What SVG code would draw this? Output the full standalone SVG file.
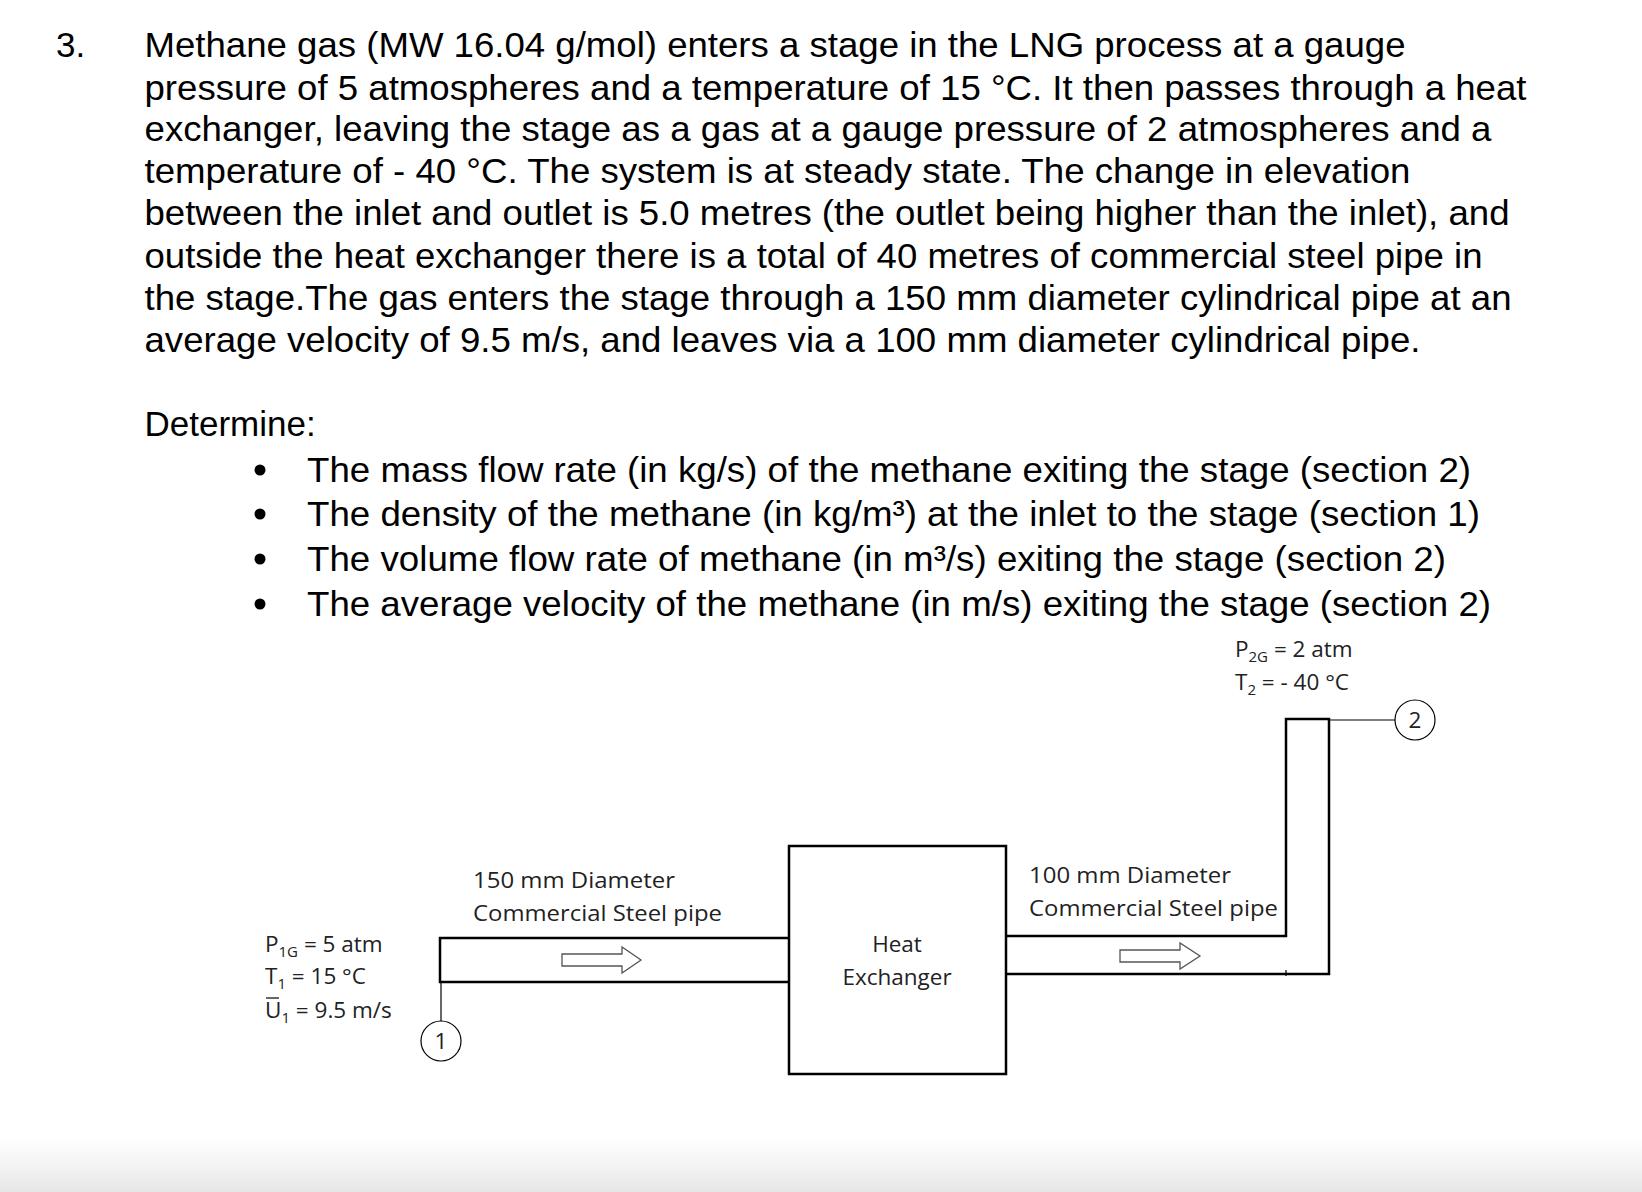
<svg xmlns="http://www.w3.org/2000/svg" width="1642" height="1192" viewBox="0 0 1642 1192">
<defs>
<linearGradient id="g" x1="0" y1="0" x2="0" y2="1"><stop offset="0" stop-color="#fff"/><stop offset="1" stop-color="#e6e6e6"/></linearGradient>
<style>
.m{font-family:"Liberation Sans",Arial,sans-serif;font-size:35px;fill:#000}
.s{font-family:"Open Sans","Liberation Sans",sans-serif;font-size:22.5px;fill:#222}
.p{fill:none;stroke:#000;stroke-width:2.5}
.t{fill:none;stroke:#000;stroke-width:1.2}
.a{fill:#fff;stroke:#555;stroke-width:1.3}
</style>
</defs>
<rect width="1642" height="1192" fill="#fff"/>
<rect y="1140" width="1642" height="52" fill="url(#g)"/>
<g id="question">
<text class="m" x="56" y="57">3.</text>
<text class="m" x="144.5" y="57" textLength="1261" lengthAdjust="spacingAndGlyphs">Methane gas (MW 16.04 g/mol) enters a stage in the LNG process at a gauge</text>
<text class="m" x="144.5" y="99.5" textLength="1382" lengthAdjust="spacingAndGlyphs">pressure of 5 atmospheres and a temperature of 15 °C. It then passes through a heat</text>
<text class="m" x="144.5" y="141" textLength="1347" lengthAdjust="spacingAndGlyphs">exchanger, leaving the stage as a gas at a gauge pressure of 2 atmospheres and a</text>
<text class="m" x="144.5" y="183" textLength="1266" lengthAdjust="spacingAndGlyphs">temperature of - 40 °C. The system is at steady state. The change in elevation</text>
<text class="m" x="144.5" y="225" textLength="1365" lengthAdjust="spacingAndGlyphs">between the inlet and outlet is 5.0 metres (the outlet being higher than the inlet), and</text>
<text class="m" x="144.5" y="268" textLength="1338" lengthAdjust="spacingAndGlyphs">outside the heat exchanger there is a total of 40 metres of commercial steel pipe in</text>
<text class="m" x="144.5" y="310" textLength="1367" lengthAdjust="spacingAndGlyphs">the stage.The gas enters the stage through a 150 mm diameter cylindrical pipe at an</text>
<text class="m" x="144.5" y="352" textLength="1276" lengthAdjust="spacingAndGlyphs">average velocity of 9.5 m/s, and leaves via a 100 mm diameter cylindrical pipe.</text>
<text class="m" x="144.5" y="435.5">Determine:</text>
<circle cx="260" cy="470" r="5.5"/><circle cx="260" cy="514" r="5.5"/><circle cx="260" cy="559" r="5.5"/><circle cx="260" cy="604" r="5.5"/>
<text class="m" x="307" y="481.5" textLength="1164" lengthAdjust="spacingAndGlyphs">The mass flow rate (in kg/s) of the methane exiting the stage (section 2)</text>
<text class="m" x="307" y="525.5" textLength="1173" lengthAdjust="spacingAndGlyphs">The density of the methane (in kg/m³) at the inlet to the stage (section 1)</text>
<text class="m" x="307" y="570.5" textLength="1139" lengthAdjust="spacingAndGlyphs">The volume flow rate of methane (in m³/s) exiting the stage (section 2)</text>
<text class="m" x="307" y="615.5" textLength="1184" lengthAdjust="spacingAndGlyphs">The average velocity of the methane (in m/s) exiting the stage (section 2)</text>
</g>
<g id="connectors">
<path class="p" d="M789 938H440V982H789"/>
<path class="p" d="M1006 936H1286V719H1329V974H1006"/>
<path class="t" d="M441 982V1021"/>
<path class="t" d="M1329 720H1395"/>
<path class="t" d="M1286 970V976"/>
<path class="a" d="M562 954H622V947L641 960L622 973V966H562Z"/>
<path class="a" d="M1120 950H1180V943L1200 956L1180 969V962H1120Z"/>
</g>
<g id="hx">
<rect class="p" x="789" y="846" width="217" height="228"/>
<text class="s" x="897" y="952" text-anchor="middle">Heat</text>
<text class="s" x="897" y="985" text-anchor="middle">Exchanger</text>
</g>
<g id="pt1">
<circle class="t" cx="441" cy="1041" r="20" fill="#fff"/>
<text class="s" x="441" y="1049" text-anchor="middle">1</text>
</g>
<g id="pt2">
<circle class="t" cx="1415" cy="720" r="20" fill="#fff"/>
<text class="s" x="1415" y="728" text-anchor="middle">2</text>
</g>
<g id="labels">
<text class="s" x="473" y="888" textLength="202" lengthAdjust="spacingAndGlyphs">150 mm Diameter</text>
<text class="s" x="473" y="921" textLength="249" lengthAdjust="spacingAndGlyphs">Commercial Steel pipe</text>
<text class="s" x="1029" y="883" textLength="202" lengthAdjust="spacingAndGlyphs">100 mm Diameter</text>
<text class="s" x="1029" y="916" textLength="249" lengthAdjust="spacingAndGlyphs">Commercial Steel pipe</text>
<text class="s" x="265" y="952">P<tspan font-size="15" dy="5">1G</tspan><tspan dy="-5"> = 5 atm</tspan></text>
<text class="s" x="265" y="984">T<tspan font-size="15" dy="5">1</tspan><tspan dy="-5"> = 15 °C</tspan></text>
<text class="s" x="265" y="1018">U<tspan font-size="15" dy="5">1</tspan><tspan dy="-5"> = 9.5 m/s</tspan></text>
<path class="t" d="M266 998H279"/>
<text class="s" x="1235" y="657">P<tspan font-size="15" dy="5">2G</tspan><tspan dy="-5"> = 2 atm</tspan></text>
<text class="s" x="1235" y="690">T<tspan font-size="15" dy="5">2</tspan><tspan dy="-5"> = - 40 °C</tspan></text>
</g>
</svg>
